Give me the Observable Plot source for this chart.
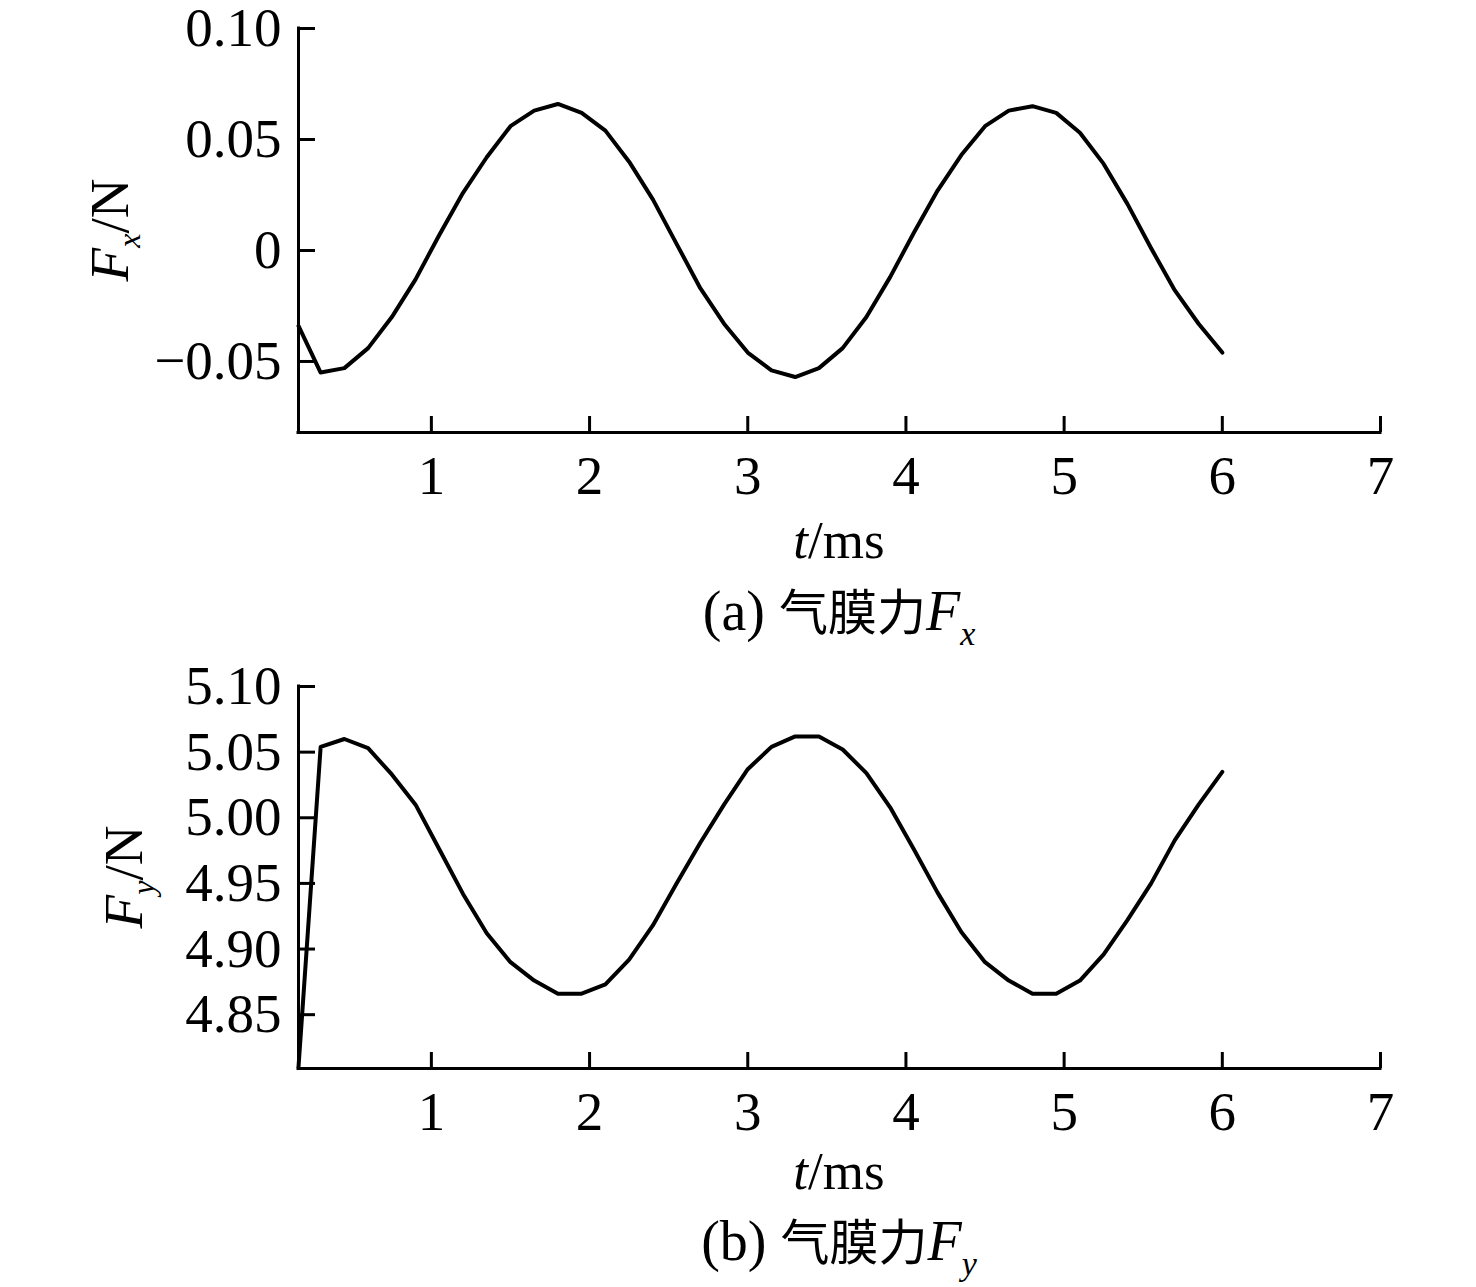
<!DOCTYPE html>
<html>
<head>
<meta charset="utf-8">
<script src="https://cdn.jsdelivr.net/npm/d3@7"></script>
<script src="https://cdn.jsdelivr.net/npm/@observablehq/plot@0.6"></script>
<style>
  html, body { margin: 0; padding: 0; background: #fff; }
  body { width: 1476px; height: 1287px; position: relative; overflow: hidden; font-family: "Liberation Serif", "Times New Roman", serif; }
  figure { margin: 0; position: absolute; left: 0; width: 1476px; background: transparent; }
  figure svg { overflow: visible; display: block; }
  figcaption { box-sizing: border-box; width: 1476px; padding-left: 298px; padding-right: 96px; text-align: center;
    font-family: "Liberation Serif", serif; font-size: 56px; line-height: 50px; height: 50px; color: #000; white-space: nowrap; }
  .cjk { font-family: "Noto Sans CJK SC", sans-serif; font-size: 49px; }
  .sub { font-size: 34px; font-style: italic; position: relative; top: 15px; line-height: 0; }
</style>
</head>
<body>
<div id="root"></div>
<script>
// ---- data ----
const t = [0.16, 0.30, 0.45, 0.60, 0.75, 0.90, 1.05, 1.20, 1.35, 1.50,
           1.65, 1.80, 1.95, 2.10, 2.25, 2.40, 2.55, 2.70, 2.85, 3.00,
           3.15, 3.30, 3.45, 3.60, 3.75, 3.90, 4.05, 4.20, 4.35, 4.50,
           4.65, 4.80, 4.95, 5.10, 5.25, 5.40, 5.55, 5.70, 5.85, 6.00];
const fx = [-0.034, -0.055, -0.053, -0.044, -0.030, -0.013, 0.007, 0.026, 0.042, 0.056,
            0.063, 0.066, 0.062, 0.054, 0.040, 0.023, 0.003, -0.017, -0.033, -0.046,
            -0.054, -0.057, -0.053, -0.044, -0.030, -0.012, 0.008, 0.027, 0.043, 0.056,
            0.063, 0.065, 0.062, 0.053, 0.039, 0.021, 0.001, -0.018, -0.033, -0.046];
const fy = [4.810, 5.054, 5.060, 5.053, 5.033, 5.010, 4.976, 4.942, 4.912, 4.890,
            4.876, 4.866, 4.866, 4.873, 4.892, 4.918, 4.950, 4.981, 5.010, 5.037,
            5.054, 5.062, 5.062, 5.052, 5.034, 5.008, 4.976, 4.943, 4.913, 4.890,
            4.876, 4.866, 4.866, 4.876, 4.896, 4.922, 4.950, 4.983, 5.010, 5.035];
const xTicks = [1, 2, 3, 4, 5, 6, 7];
const xDomain = [0.16, 7];
const fxTicks = [-0.05, 0, 0.05, 0.10];
const fxDomain = [-0.082, 0.10];
const fyTicks = [4.85, 4.90, 4.95, 5.00, 5.05, 5.10];
const fyDomain = [4.809, 5.10];

const fxData = t.map((d, i) => ({t: d, v: fx[i]}));
const fyData = t.map((d, i) => ({t: d, v: fy[i]}));

const fmtFx = d => d === 0 ? "0" : (d < 0 ? "\u2212" : "") + Math.abs(d).toFixed(2);
const fmtFy = d => d.toFixed(2);

function makeCaption(letter, sub) {
  const c = document.createElement("span");
  c.innerHTML = `(${letter}) <span class="cjk">气膜力</span><i>F</i><span class="sub">${sub}</span>`;
  return c;
}

function panel({data, yDomain, yTicks, yFmt, marginTop, height, caption, ySub, yLabelX, xLabelY, top}) {
  const fig = Plot.plot({
    width: 1476,
    height,
    marginLeft: 298,
    marginRight: 96,
    marginTop,
    marginBottom: height - 432,
    style: {fontFamily: "'Liberation Serif', 'Times New Roman', serif", fontSize: "55px", color: "#000", background: "transparent", overflow: "visible"},
    x: {domain: xDomain, label: null},
    y: {domain: yDomain, label: null},
    caption,
    marks: [
      Plot.axisX({ticks: xTicks, tickSize: -16, tickPadding: 38, tickFormat: d => String(d), strokeWidth: 3, label: null}),
      Plot.axisY({ticks: yTicks, tickSize: -17, tickPadding: 34, tickFormat: yFmt, strokeWidth: 3, label: null}),
      Plot.ruleY([yDomain[0]], {stroke: "#000", strokeWidth: 3, strokeLinecap: "square"}),
      Plot.ruleX([xDomain[0]], {stroke: "#000", strokeWidth: 3, strokeLinecap: "square"}),
      Plot.line(data, {x: "t", y: "v", stroke: "#000", strokeWidth: 4, strokeLinejoin: "round", strokeLinecap: "round"})
    ]
  });
  fig.style.top = top + "px";
  document.getElementById("root").appendChild(fig);
  const svg = d3.select(fig.querySelector("svg"));
  const yc = (marginTop + 432) / 2;
  // y label
  const yl = svg.append("text")
    .attr("transform", `translate(${yLabelX},${yc}) rotate(-90)`)
    .attr("text-anchor", "middle")
    .attr("font-size", 55)
    .attr("fill", "#000");
  yl.append("tspan").attr("font-style", "italic").text("F");
  yl.append("tspan").attr("font-style", "italic").attr("font-size", 32).attr("dy", 12).text(ySub);
  yl.append("tspan").attr("dy", -12).text("/N");
  // x label
  const xl = svg.append("text")
    .attr("x", 839).attr("y", xLabelY)
    .attr("text-anchor", "middle")
    .attr("font-size", 53)
    .attr("fill", "#000");
  xl.append("tspan").attr("font-style", "italic").text("t");
  xl.append("tspan").text("/ms");
}

panel({data: fxData, yDomain: fxDomain, yTicks: fxTicks, yFmt: fmtFx, marginTop: 28, height: 584,
       caption: makeCaption("a", "x"), ySub: "x", yLabelX: 128, xLabelY: 558, top: 0});
panel({data: fyData, yDomain: fyDomain, yTicks: fyTicks, yFmt: fmtFy, marginTop: 50, height: 578,
       caption: makeCaption("b", "y"), ySub: "y", yLabelX: 142, xLabelY: 553, top: 636});
</script>
</body>
</html>
